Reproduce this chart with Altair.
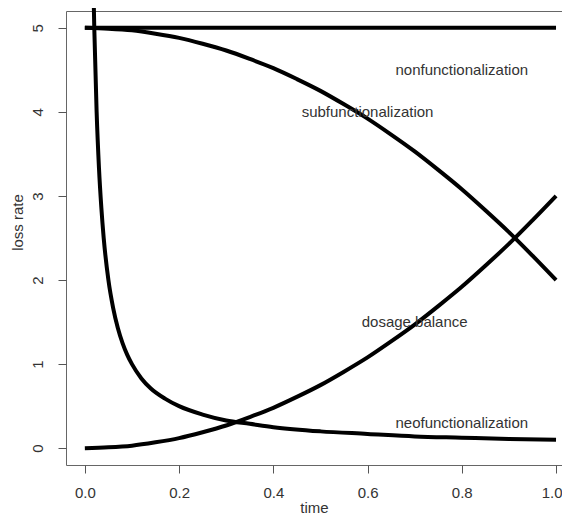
import altair as alt
import pandas as pd

# time grid for the smooth curves
t_grid = [0.0, 0.05, 0.1, 0.15, 0.2, 0.25, 0.3, 0.35, 0.4, 0.45, 0.5,
          0.55, 0.6, 0.65, 0.7, 0.75, 0.8, 0.85, 0.9, 0.95, 1.0]
nonfunc = [5.0] * 21
subfunc = [5.0, 4.99, 4.97, 4.93, 4.88, 4.81, 4.73, 4.63, 4.52, 4.39, 4.25,
           4.09, 3.92, 3.73, 3.53, 3.31, 3.08, 2.83, 2.57, 2.29, 2.0]
dosage = [0.0, 0.01, 0.03, 0.07, 0.12, 0.19, 0.27, 0.37, 0.48, 0.61, 0.75,
          0.91, 1.08, 1.27, 1.47, 1.69, 1.92, 2.17, 2.43, 2.71, 3.0]

t_neo = [0.0185, 0.02, 0.025, 0.03, 0.035, 0.04, 0.05, 0.06, 0.07, 0.08, 0.09,
         0.1, 0.12, 0.14, 0.17, 0.2, 0.25, 0.3, 0.35, 0.4, 0.5, 0.6, 0.7,
         0.8, 0.9, 1.0]
neofunc = [5.41, 5.0, 4.0, 3.33, 2.86, 2.5, 2.0, 1.67, 1.43, 1.25, 1.11,
           1.0, 0.83, 0.71, 0.59, 0.5, 0.4, 0.33, 0.29, 0.25, 0.2, 0.17, 0.14,
           0.125, 0.11, 0.1]

label_text = ["nonfunctionalization", "subfunctionalization", "dosage balance", "neofunctionalization"]
label_x = [0.8, 0.6, 0.7, 0.8]
label_y = [4.5, 4.0, 1.5, 0.3]

x_ticks = [0.0, 0.2, 0.4, 0.6, 0.8, 1.0]
y_ticks = [0, 1, 2, 3, 4, 5]

rows = []
for name, ts, vs in [("non", t_grid, nonfunc), ("sub", t_grid, subfunc),
                     ("dos", t_grid, dosage), ("neo", t_neo, neofunc)]:
    for i, (tt, vv) in enumerate(zip(ts, vs)):
        rows.append({"series": name, "time": tt, "loss": vv, "order": i})
lines_df = pd.DataFrame(rows)
labels_df = pd.DataFrame({"text": label_text, "time": label_x, "loss": label_y})

FONT = "Liberation Sans"
FS = 15

x_scale = alt.Scale(domain=[-0.04, 1.0127], nice=False, zero=False)
y_scale = alt.Scale(domain=[-0.2, 5.2], nice=False, zero=False)

x_axis = alt.Axis(values=x_ticks, format=".1f", title="time", grid=False,
                  domain=False, tickSize=8, tickColor="#555", tickWidth=1,
                  labelFont=FONT, labelFontSize=FS, labelColor="#333",
                  labelPadding=12, labelFlush=10, labelFlushOffset=6,
                  titleFont=FONT, titleFontSize=FS,
                  titleFontWeight="normal", titleColor="#333",
                  titleBaseline="alphabetic", titleY=47)
y_axis = alt.Axis(values=y_ticks, format="d", title="loss rate", grid=False,
                  domain=False, tickSize=8, tickColor="#555", tickWidth=1,
                  labelFont=FONT, labelFontSize=FS, labelColor="#333",
                  labelAngle=270, labelAlign="center", labelBaseline="bottom",
                  labelPadding=13, titleFont=FONT, titleFontSize=FS,
                  titleFontWeight="normal", titleColor="#333",
                  titleAngle=270, titleAlign="center", titleBaseline="middle",
                  titleX=-49, titleY=211)

lines = alt.Chart(lines_df).mark_line(
    color="black", strokeWidth=4, interpolate="monotone", clip=False
).encode(
    x=alt.X("time:Q", scale=x_scale, axis=x_axis),
    y=alt.Y("loss:Q", scale=y_scale, axis=y_axis),
    detail="series:N",
    order="order:O",
)

texts = alt.Chart(labels_df).mark_text(
    font=FONT, fontSize=FS, color="#333", align="center", baseline="middle"
).encode(
    x=alt.X("time:Q", scale=x_scale),
    y=alt.Y("loss:Q", scale=y_scale),
    text="text:N",
)

chart = alt.layer(lines, texts).properties(
    width=496, height=454,
    autosize=alt.AutoSizeParams(type="none"),
    padding={"left": 58, "top": 3, "right": 0, "bottom": 50},
).configure_view(stroke="#666", strokeWidth=1)

chart.save("out.html", embed_options={"renderer": "svg", "actions": False})
